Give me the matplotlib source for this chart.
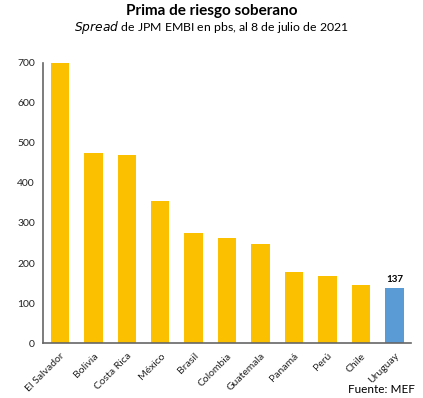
import matplotlib
matplotlib.use("Agg")
import matplotlib.pyplot as plt

countries = ["El Salvador", "Bolivia", "Costa Rica", "México", "Brasil", "Colombia",
             "Guatemala", "Panamá", "Perú", "Chile", "Uruguay"]
spread = [700, 475, 470, 355, 275, 262, 248, 178, 168, 145, 137]
yticks = [0, 100, 200, 300, 400, 500, 600, 700]

yellow = "#FBC000"
blue = "#5B9BD5"
colors = [yellow] * (len(countries) - 1) + [blue]

plt.rcParams['font.family'] = ['Lato', 'DejaVu Sans']
fig = plt.figure(figsize=(4.23, 3.98), dpi=100)
ax = fig.add_axes([0.102, 0.138, 0.87, 0.704])
x = list(range(len(countries)))
ax.bar(x, spread, width=0.55, color=colors)
ax.set_xlim(-0.5, 10.5)
ax.set_ylim(0, 700)
ax.set_yticks(yticks)
ax.set_yticklabels([str(v) for v in yticks], fontsize=7.5, color="#222222")
ax.set_xticks(x)
ax.set_xticklabels(countries, rotation=45, ha="right", rotation_mode="anchor", fontsize=7.5, color="#222222")
ax.tick_params(length=0, pad=6)
for s in ["top", "right"]:
    ax.spines[s].set_visible(False)
for s in ["left", "bottom"]:
    ax.spines[s].set_color("#666666")
    ax.spines[s].set_linewidth(1.2)
ax.text(x[-1], spread[-1] + 10, str(spread[-1]), ha="center", va="bottom", fontsize=7, fontweight="bold")

fig.text(0.5, 0.972, "Prima de riesgo soberano", ha="center", va="center", fontsize=11, fontweight="bold")
fig.text(0.5, 0.932, r"$\it{Spread}$" + " de JPM EMBI en pbs, al 8 de julio de 2021",
         ha="center", va="center", fontsize=8.8)
fig.text(0.98, 0.022, "Fuente: MEF", ha="right", va="center", fontsize=8.5)

fig.savefig("out.png", dpi=100)
